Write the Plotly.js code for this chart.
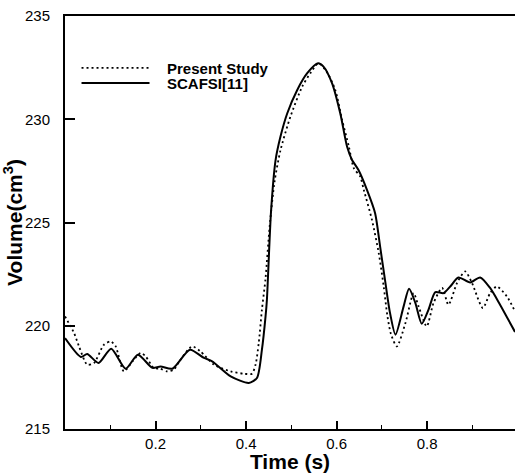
<!DOCTYPE html>
<html>
<head>
<meta charset="utf-8">
<script src="https://cdn.plot.ly/plotly-3.0.1.min.js"></script>
<style>html,body{margin:0;padding:0;background:#fff;overflow:hidden;}</style>
</head>
<body>
<div id="chart" style="width:515px;height:473px;"></div>
<script>
// SCAFSI[11] (solid)
var scafsiTime = [0, 0.035, 0.049, 0.074, 0.102, 0.134, 0.161, 0.193, 0.211, 0.237, 0.276, 0.307, 0.325, 0.366, 0.406, 0.424, 0.435, 0.443, 0.446, 0.455, 0.465, 0.476, 0.491, 0.513, 0.535, 0.559, 0.571, 0.590, 0.608, 0.623, 0.634, 0.648, 0.667, 0.685, 0.696, 0.707, 0.718, 0.730, 0.748, 0.760, 0.774, 0.788, 0.803, 0.818, 0.836, 0.851, 0.869, 0.895, 0.917, 0.939, 0.961, 0.994];
var scafsiVolume = [219.4, 218.49, 218.63, 218.2, 218.89, 217.92, 218.6, 217.96, 218.03, 217.92, 218.84, 218.44, 218.28, 217.55, 217.23, 217.47, 218.84, 220.45, 221.26, 225.5, 228.0, 229.16, 230.29, 231.42, 232.23, 232.71, 232.55, 231.74, 230.29, 228.68, 228.03, 227.55, 226.58, 225.45, 223.84, 222.2, 220.61, 219.57, 220.94, 221.79, 221.1, 220.1, 220.78, 221.63, 221.58, 221.9, 222.34, 222.1, 222.34, 221.83, 221.02, 219.7];

// Present Study (dotted)
var presentTime = [0, 0.02, 0.031, 0.049, 0.064, 0.086, 0.101, 0.112, 0.130, 0.150, 0.167, 0.178, 0.196, 0.210, 0.226, 0.240, 0.255, 0.281, 0.299, 0.329, 0.366, 0.395, 0.413, 0.421, 0.428, 0.435, 0.443, 0.452, 0.463, 0.476, 0.498, 0.524, 0.542, 0.560, 0.578, 0.597, 0.612, 0.627, 0.638, 0.652, 0.660, 0.678, 0.693, 0.704, 0.712, 0.720, 0.733, 0.752, 0.770, 0.781, 0.799, 0.814, 0.833, 0.847, 0.866, 0.884, 0.899, 0.923, 0.939, 0.954, 0.976, 0.994];
var presentVolume = [220.45, 219.65, 219.0, 218.12, 218.2, 219.08, 219.24, 219.0, 217.79, 218.3, 218.68, 218.52, 217.96, 217.92, 217.79, 217.87, 218.36, 219.0, 218.76, 218.12, 217.79, 217.68, 217.68, 218.12, 219.17, 220.78, 222.3, 224.8, 227.0, 228.5, 230.13, 231.58, 232.23, 232.71, 232.3, 231.42, 229.97, 228.68, 227.63, 227.23, 226.58, 225.13, 223.52, 221.9, 220.5, 219.6, 219.0, 220.13, 221.58, 220.94, 219.97, 221.1, 221.83, 221.02, 222.07, 222.63, 222.07, 220.86, 221.58, 221.9, 221.42, 220.7];

var seriesNames = ['Present Study', 'SCAFSI[11]'];
var xTickVals = [0.2, 0.4, 0.6, 0.8];
var yTickVals = [215, 220, 225, 230, 235];

var FONT = 'Liberation Sans, Arial, Helvetica, sans-serif';
var PAD = '\u00a0\u00a0\u00a0';

var traces = [
  {
    x: presentTime, y: presentVolume, name: PAD + seriesNames[0],
    type: 'scatter', mode: 'lines', legend: 'legend',
    line: {color: '#000', width: 1.8, dash: '2px,3px', shape: 'spline', smoothing: 0.7}
  },
  {
    x: scafsiTime, y: scafsiVolume, name: PAD + seriesNames[1],
    type: 'scatter', mode: 'lines', legend: 'legend2',
    line: {color: '#000', width: 2, shape: 'spline', smoothing: 0.7}
  }
];

function legendAt(yPaper) {
  return {
    x: 0.0256, y: yPaper, xanchor: 'left', yanchor: 'middle',
    bgcolor: 'rgba(0,0,0,0)', borderwidth: 0,
    font: {family: FONT, size: 15, weight: 'bold', color: '#000'},
    itemwidth: 68, tracegroupgap: 0
  };
}

var layout = {
  width: 515, height: 473,
  margin: {l: 65, r: 0, t: 16, b: 44},
  paper_bgcolor: '#fff', plot_bgcolor: '#fff',
  font: {family: FONT, color: '#000', size: 14},
  showlegend: true,
  legend: legendAt(0.874),
  legend2: legendAt(0.837),
  xaxis: {
    range: [0, 0.994],
    tickvals: xTickVals,
    ticks: 'inside', ticklen: 8, tickwidth: 2, tickcolor: '#000',
    minor: {dtick: 0.1, tick0: 0, ticks: 'inside', ticklen: 4, tickwidth: 1, tickcolor: '#000', showgrid: false},
    showline: true, linewidth: 2, linecolor: '#000', mirror: true,
    showgrid: false, zeroline: false,
    tickfont: {family: FONT, size: 15, color: '#000'},
    title: {text: 'Time (s)', font: {family: FONT, size: 21, weight: 'bold', color: '#000'}, standoff: 0}
  },
  yaxis: {
    range: [215, 235],
    tickvals: yTickVals,
    ticks: 'inside', ticklen: 10, tickwidth: 2, tickcolor: '#000',
    showline: true, linewidth: 2, linecolor: '#000',
    showgrid: false, zeroline: false,
    ticklabelstandoff: 10,
    tickfont: {family: FONT, size: 15, color: '#000'},
    title: {text: 'Volume(cm<sup>3</sup>)', font: {family: FONT, size: 21, weight: 'bold', color: '#000'}, standoff: 6}
  }
};

Plotly.newPlot('chart', traces, layout, {displayModeBar: false, staticPlot: true});
</script>
</body>
</html>
